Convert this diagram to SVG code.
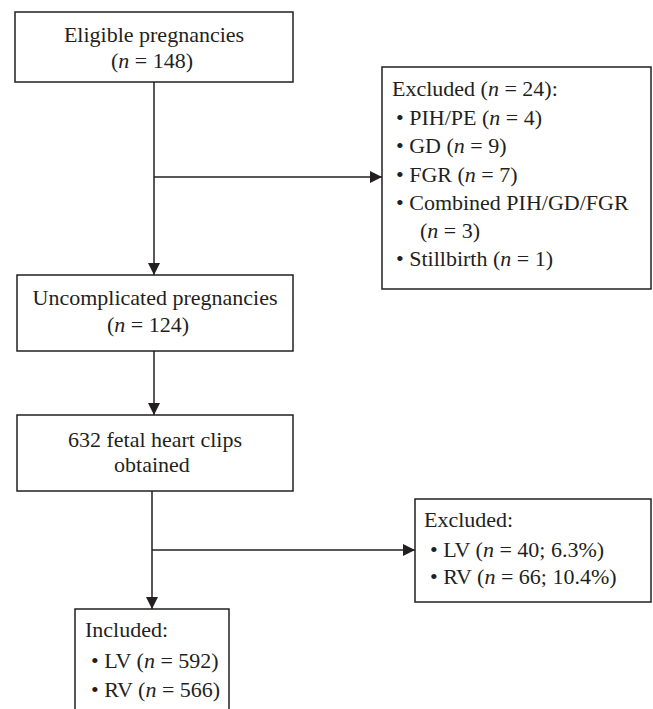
<svg xmlns="http://www.w3.org/2000/svg" width="653" height="709" viewBox="0 0 653 709">
<style>
.box{fill:#fff;stroke:#231f20;stroke-width:1.5}
.ln{fill:none;stroke:#231f20;stroke-width:1.5}
text{font-family:"Liberation Serif","Times New Roman",serif;font-size:22px;fill:#231f20}
.c{text-anchor:middle}
.i{font-style:italic}
</style>
<defs>
<marker id="ah" viewBox="0 0 12 12" refX="12" refY="6" markerWidth="12" markerHeight="12" markerUnits="userSpaceOnUse" orient="auto">
<path d="M0,0 L12,6 L0,12 Z" fill="#231f20"/>
</marker>
</defs>
<rect width="653" height="709" fill="#fff"/>
<g id="connectors">
<line class="ln" x1="154" y1="82" x2="154" y2="275" marker-end="url(#ah)"/>
<line class="ln" x1="154" y1="177" x2="382" y2="177" marker-end="url(#ah)"/>
<line class="ln" x1="154" y1="351" x2="154" y2="415" marker-end="url(#ah)"/>
<line class="ln" x1="152" y1="491" x2="152" y2="609" marker-end="url(#ah)"/>
<line class="ln" x1="152" y1="550" x2="415" y2="550" marker-end="url(#ah)"/>
</g>
<g id="eligible">
<rect class="box" x="15" y="12" width="278" height="70"/>
<text class="c" x="154" y="42">Eligible pregnancies</text>
<text class="c" x="152" y="68">(<tspan class="i">n</tspan> = 148)</text>
</g>
<g id="excluded1">
<rect class="box" x="382" y="67" width="269" height="222"/>
<text x="392" y="96">Excluded (<tspan class="i">n</tspan> = 24):</text>
<text x="396" y="125">• PIH/PE (<tspan class="i">n</tspan> = 4)</text>
<text x="396" y="153">• GD (<tspan class="i">n</tspan> = 9)</text>
<text x="396" y="182">• FGR (<tspan class="i">n</tspan> = 7)</text>
<text x="396" y="210">• Combined PIH/GD/FGR</text>
<text x="420" y="238">(<tspan class="i">n</tspan> = 3)</text>
<text x="396" y="266">• Stillbirth (<tspan class="i">n</tspan> = 1)</text>
</g>
<g id="uncomplicated">
<rect class="box" x="17" y="275" width="276" height="76"/>
<text class="c" x="155" y="305">Uncomplicated pregnancies</text>
<text class="c" x="148" y="332">(<tspan class="i">n</tspan> = 124)</text>
</g>
<g id="clips">
<rect class="box" x="17" y="415" width="276" height="76"/>
<text class="c" x="155" y="447">632 fetal heart clips</text>
<text class="c" x="152" y="472">obtained</text>
</g>
<g id="excluded2">
<rect class="box" x="415" y="499" width="236" height="103"/>
<text x="424" y="527">Excluded:</text>
<text x="430" y="557">• LV (<tspan class="i">n</tspan> = 40; 6.3%)</text>
<text x="430" y="584">• RV (<tspan class="i">n</tspan> = 66; 10.4%)</text>
</g>
<g id="included">
<rect class="box" x="75" y="609" width="154" height="110"/>
<text x="85" y="637">Included:</text>
<text x="91" y="668">• LV (<tspan class="i">n</tspan> = 592)</text>
<text x="91" y="697">• RV (<tspan class="i">n</tspan> = 566)</text>
</g>
</svg>
